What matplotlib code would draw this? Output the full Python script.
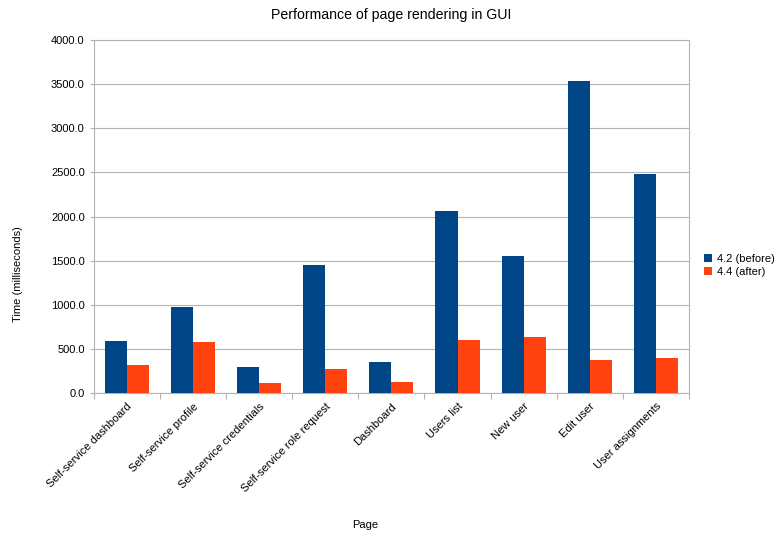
import numpy as np
import matplotlib.pyplot as plt
from matplotlib.ticker import FormatStrFormatter

plt.rcParams['font.family'] = ['Liberation Sans', 'DejaVu Sans']

pages = ["Self-service dashboard", "Self-service profile", "Self-service credentials",
         "Self-service role request", "Dashboard", "Users list", "New user",
         "Edit user", "User assignments"]
before = [590, 972, 292, 1447, 352, 2066, 1552, 3540, 2485]
after = [318, 575, 110, 272, 125, 605, 638, 370, 397]

fig = plt.figure(figsize=(7.75, 5.36), dpi=100)
ax = fig.add_axes([0.121, 0.267, 0.768, 0.658])

x = np.arange(len(pages))
w = 1 / 3
ax.bar(x - w / 2, before, w, color='#004586', label='4.2 (before)', zorder=3)
ax.bar(x + w / 2, after, w, color='#ff420e', label='4.4 (after)', zorder=3)

ax.set_xlim(-0.5, len(pages) - 0.5)
ax.set_ylim(0, 4000)
ax.set_yticks(np.arange(0, 4001, 500))
ax.yaxis.set_major_formatter(FormatStrFormatter('%.1f'))
ax.yaxis.grid(True, color='#b3b3b3', linewidth=0.8, zorder=0)

# ticks at category boundaries, labels at centres
ax.set_xticks(np.arange(-0.5, len(pages), 1))
ax.set_xticklabels([])
ax.set_xticks(x, minor=True)
ax.set_xticklabels(pages, minor=True, rotation=45, ha='right', rotation_mode='anchor', fontsize=8)
ax.tick_params(axis='x', which='minor', length=0, pad=6)
ax.tick_params(axis='x', which='major', length=4, color='#b3b3b3')
ax.tick_params(axis='y', length=3, color='#b3b3b3', labelsize=8)

for s in ax.spines.values():
    s.set_color('#b3b3b3')

ax.set_title("Performance of page rendering in GUI", fontsize=10.2, pad=15)
fig.text(0.023, 0.489, "Time (milliseconds)", fontsize=8, rotation=90, ha='center', va='center')
fig.text(0.471, 0.0205, "Page", fontsize=8, ha='center', va='center')

ax.legend(loc='center left', bbox_to_anchor=(0.909, 0.505), bbox_transform=fig.transFigure,
          frameon=False, fontsize=8, borderaxespad=0, borderpad=0,
          handlelength=0.7, handleheight=0.7, handletextpad=0.4, labelspacing=0.3)

fig.savefig("out.png", dpi=100)
